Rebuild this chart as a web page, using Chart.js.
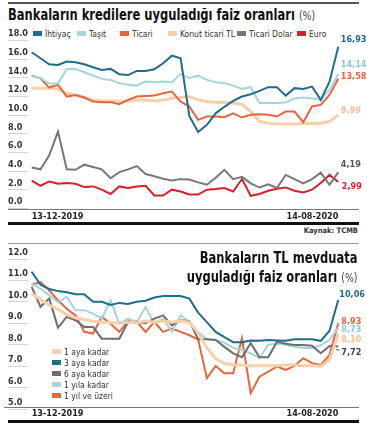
<!DOCTYPE html>
<html>
<head>
<meta charset="utf-8">
<script src="https://cdn.jsdelivr.net/npm/chart.js@4/dist/chart.umd.min.js"></script>
<style>
  body { margin: 0; width: 367px; height: 439px; background: #fff; position: relative; overflow: hidden;
         font-family: "Liberation Sans Narrow", "DejaVu Sans Condensed", "Roboto", sans-serif; color: #222; }
  canvas { position: absolute; left: 0; }
  .rule { position: absolute; left: 8px; width: 351px; }
  .title { position: absolute; font-weight: bold; font-size: 16px; line-height: 19px; color: #111; white-space: nowrap; }
  .title span { font-weight: normal; font-size: 13px; color: #444; }
  .legend { position: absolute; font-size: 8.5px; color: #333; white-space: nowrap; }
  .legend i { display: inline-block; width: 9px; height: 5px; margin-right: 3px; vertical-align: 1px; }
  #legTop { top: 29px; left: 33px; }
  #legTop div { position: absolute; top: 0; }
  #legBot { top: 347px; left: 52px; }
  #legBot div { height: 11px; line-height: 11px; }
  #src { position: absolute; top: 226px; right: 9px; font-size: 7.5px; font-weight: bold; color: #333; }
</style>
</head>
<body>
<div class="rule" style="top:2px;height:1.5px;background:#555"></div>
<div class="title" style="top:5px;left:8px;transform:scaleX(0.8);transform-origin:left top">Bankaların kredilere uyguladığı faiz oranları <span>(%)</span></div>
<div id="legTop" class="legend"></div>
<canvas id="kredi" width="367" height="222" style="top:0"></canvas>

<div class="rule" style="top:222px;height:2.5px;background:#111"></div>
<div id="src">Kaynak: TCMB</div>
<div class="rule" style="top:243px;height:1px;background:#999"></div>
<canvas id="mevduat" width="367" height="190" style="top:230px"></canvas>
<div class="title" style="top:248px;right:10px;text-align:right;transform:scaleX(0.8);transform-origin:right top">Bankaların TL mevduata<br>uyguladığı faiz oranları <span>(%)</span></div>
<div id="legBot" class="legend"></div>
<div class="rule" style="top:420px;height:2.5px;background:#111"></div>

<script>
var dates = ['13-12-2019','20-12-2019','27-12-2019','03-01-2020','10-01-2020','17-01-2020','24-01-2020','31-01-2020',
  '07-02-2020','14-02-2020','21-02-2020','28-02-2020','06-03-2020','13-03-2020','20-03-2020','27-03-2020',
  '03-04-2020','10-04-2020','17-04-2020','24-04-2020','01-05-2020','08-05-2020','15-05-2020','22-05-2020','29-05-2020',
  '05-06-2020','12-06-2020','19-06-2020','26-06-2020','03-07-2020','10-07-2020','17-07-2020','24-07-2020','31-07-2020',
  '07-08-2020','14-08-2020'];

// kredi faizleri
var ihtiyac = [16.04,15.4,14.76,14.68,15.04,14.97,14.76,14.44,14.15,14.26,13.69,13.6,14.04,14.04,14.22,14.87,15.68,15.4,9.2,7.5,
  8.27,9.5,10.2,10.83,11.3,11.55,11.9,12.3,12.3,11.4,12.2,12.1,12.37,10.94,12.9,16.64];
var tasit = [13.6,13.26,12.7,12.7,14.26,14.26,13.9,13.54,13.19,13.08,12.72,12.55,12.47,12.9,12.83,12.9,12.83,13.7,13.3,13.54,
  13.08,12.83,12.72,12.47,12.12,12.3,10.6,10.6,10.6,10.66,11.1,11.2,11.1,10.95,12.0,13.7];
var ticari = [13.54,13.26,12.26,12.55,11.3,11.47,11.19,10.76,10.7,10.7,10.48,10.94,11.3,11.37,11.4,11.66,11.83,10.76,10.23,8.8,
  9.16,9.16,9.09,9.5,9.05,9.34,9.41,9.34,9.16,9.69,9.69,8.55,10.23,10.4,11.47,13.2];
var konut = [12.2,12.2,12.2,12.12,11.66,11.47,11.19,10.94,10.83,10.83,10.76,10.83,10.94,10.94,10.83,10.94,11.12,11.19,11.3,10.94,
  10.76,10.7,10.66,10.59,10.48,9.69,8.62,8.45,8.37,8.37,8.37,8.4,8.4,8.45,8.62,9.34];
var dolar = [3.7,3.5,5.0,7.55,3.5,3.45,4.0,3.75,3.5,2.55,3.2,3.5,3.85,3.0,2.75,2.5,2.3,2.45,2.4,2.1,
  1.85,2.6,3.45,2.45,2.7,2.0,1.55,1.9,1.5,2.9,2.45,2.0,2.45,3.15,1.85,3.2];
var euro = [2.28,1.74,2.2,1.96,2.03,1.96,1.6,1.67,1.32,0.86,1.67,1.5,1.67,1.74,0.7,0.7,1.32,1.13,0.8,0.8,
  1.32,1.39,1.5,1.13,2.46,0.67,0.86,1.2,1.42,1.56,1.2,1.03,1.32,2.03,2.92,2.14];
var krediNames = ['İhtiyaç','Taşıt','Ticari','Konut ticari TL','Ticari Dolar','Euro'];
var krediLast = ['16,93','14,14','13,58','9,99','4,19','2,99'];
var krediTicks = [0,2,4,6,8,10,12,14,16,18];

// mevduat faizleri
var ay1 = [10.1,9.8,9.55,9.35,9.1,8.95,8.88,8.8,8.75,8.72,8.72,8.75,8.72,8.8,8.75,8.8,8.75,8.8,8.75,8.25,
  7.55,7.05,6.82,6.75,6.75,6.72,6.72,6.72,6.72,6.75,6.75,6.72,6.72,6.7,7.0,8.2];
var ay3 = [11.1,10.5,10.3,10.2,10.15,10.05,10.05,9.7,9.7,9.55,9.65,9.6,9.7,9.75,9.9,9.97,9.97,9.97,9.85,9.2,
  8.75,8.3,8.05,7.82,7.82,7.9,7.88,7.92,7.9,7.88,7.95,7.95,7.95,7.88,8.35,9.8];
var ay6 = [10.4,9.47,9.85,8.5,9.0,8.84,8.53,8.53,7.98,7.98,7.98,8.76,8.76,8.7,8.92,9.07,8.6,8.84,8.8,7.95,
  7.95,7.92,7.6,7.3,7.12,7.77,7.12,7.12,7.84,7.75,7.69,7.69,7.65,7.3,7.64,7.62];
var yil1 = [10.55,10.31,10.0,9.69,9.93,9.31,9.31,9.15,8.92,9.77,8.68,8.92,8.76,9.46,8.68,8.92,8.3,9.07,8.76,8.3,
  7.95,7.92,7.8,7.55,7.45,7.3,7.07,7.7,7.75,7.7,7.6,7.55,7.55,7.68,7.92,8.5];
var yilUstu = [10.5,10.62,10.24,9.77,9.38,9.07,8.3,8.22,9.0,8.68,8.3,8.8,8.78,8.3,8.76,8.3,8.45,8.3,8.14,7.95,
  6.14,6.71,6.37,6.37,8.0,5.44,6.21,6.45,6.68,6.52,6.71,7.07,6.84,6.76,7.22,8.7];
var mevduatNames = ['1 aya kadar','3 aya kadar','6 aya kadar','1 yıla kadar','1 yıl ve üzeri'];
var mevduatLast = ['8,10','10,06','7,72','8,73','8,93'];
var mevduatTicks = [5,6,7,8,9,10,11,12];

var FONT = '"Liberation Sans Narrow", "DejaVu Sans Condensed", Roboto, sans-serif';
var C = { teal: '#1d6d8b', cyan: '#a3d5de', orange: '#e5663a', peach: '#f7cfa9', grey: '#777777', red: '#d81f2c' };

var decor = {
  id: 'decor',
  afterDraw: function(chart) {
    var o = chart.options.plugins.decor, ctx = chart.ctx, y = chart.scales.y, area = chart.chartArea;
    ctx.save();
    ctx.strokeStyle = '#c8c8c8'; ctx.lineWidth = 0.8;
    y.ticks.forEach(function(t) {
      var py = Math.round(y.getPixelForValue(t.value)) + 6.5;
      ctx.beginPath(); ctx.moveTo(8, py); ctx.lineTo(28, py); ctx.stroke();
    });
    ctx.strokeStyle = '#7a7a7a'; ctx.lineWidth = 1;
    ctx.beginPath(); ctx.moveTo(o.axisFrom, Math.round(area.bottom) + 0.5); ctx.lineTo(359, Math.round(area.bottom) + 0.5); ctx.stroke();
    ctx.font = 'bold 9px ' + FONT; ctx.textBaseline = 'middle'; ctx.textAlign = 'left';
    chart.data.datasets.forEach(function(ds, i) {
      var pts = chart.getDatasetMeta(i).data, p = pts[pts.length - 1];
      ctx.fillStyle = o.colors[i];
      ctx.fillText(o.labels[i], p.x + o.dx[i], p.y + o.dy[i]);
      if (o.dash && o.dash[i]) {
        ctx.strokeStyle = o.colors[i]; ctx.lineWidth = 1;
        ctx.beginPath(); ctx.moveTo(p.x - 2, p.y + 3); ctx.lineTo(p.x + 1, p.y + 4); ctx.stroke();
      }
    });
    ctx.restore();
  }
};

function makeLegend(el, names, colors) {
  names.forEach(function(n, i) {
    var d = document.createElement('div');
    d.innerHTML = '<i style="background:' + colors[i] + '"></i>' + n;
    el.appendChild(d);
  });
}

function lineChart(id, series, colors, widths, yMin, yMax, ticks, padTop, xHeight, deco) {
  var ds = series.map(function(s, i) {
    return { data: s, borderColor: colors[i], borderWidth: widths[i], pointRadius: 0, tension: 0, fill: false };
  });
  return new Chart(document.getElementById(id).getContext('2d'), {
    type: 'line',
    data: { labels: dates, datasets: ds },
    options: {
      responsive: false, animation: false,
      layout: { padding: { top: padTop, left: 8, right: 28.7, bottom: 0 } },
      plugins: { legend: { display: false }, tooltip: { enabled: false }, decor: deco },
      scales: {
        x: {
          offset: false,
          grid: { display: false, drawTicks: false }, border: { display: false },
          afterFit: function(s) { s.height = xHeight; },
          ticks: {
            autoSkip: false, maxRotation: 0, align: 'inner', padding: 2, color: '#222',
            font: { family: FONT, size: 9, weight: 'bold' },
            callback: function(v, i) { return (i === 0 || i === dates.length - 1) ? dates[i] : ''; }
          }
        },
        y: {
          min: yMin, max: yMax,
          grid: { display: false, drawTicks: false }, border: { display: false },
          afterFit: function(s) { s.width = 23.7; },
          afterBuildTicks: function(s) { s.ticks = ticks.map(function(v) { return { value: v }; }); },
          ticks: {
            crossAlign: 'far', padding: 0, color: '#333',
            font: { family: FONT, size: 9, weight: 'bold' },
            callback: function(v) { return Number(v).toFixed(1); }
          }
        }
      }
    },
    plugins: [decor]
  });
}

var krediColors = [C.teal, C.cyan, C.orange, C.peach, C.grey, C.red];
makeLegend(document.getElementById('legTop'), krediNames, krediColors);
var legX = [0, 44, 87, 135, 204, 264];
document.querySelectorAll('#legTop div').forEach(function(d, i) { d.style.left = legX[i] + 'px'; });

lineChart('kredi', [ihtiyac, tasit, ticari, konut, dolar, euro], krediColors, [2, 2, 2, 3, 2, 2],
  -0.75, 18, krediTicks, 34, 13,
  { axisFrom: 8, labels: krediLast, colors: [C.teal, '#8cc9d4', C.orange, '#f3c092', '#555', C.red],
    dx: [2.5, 2.5, 2.5, 2.5, 2.5, 3.5], dy: [-7, -9, -2, -4, -7, 5] });

var mevColors = [C.peach, C.teal, '#6e6e6e', C.cyan, C.orange];
makeLegend(document.getElementById('legBot'), mevduatNames, mevColors);

lineChart('mevduat', [ay1, ay3, ay6, yil1, yilUstu], mevColors, [3, 2, 2, 2, 2],
  4.81, 12, mevduatTicks, 22.5, 13.3,
  { axisFrom: 4, labels: mevduatLast, colors: ['#f3c092', C.teal, '#444', '#8cc9d4', C.orange],
    dx: [3, 1, 3, 3, 3], dy: [6, -5, 6.5, 2.5, -2], dash: [false, false, true, false, false] });
</script>
</body>
</html>
